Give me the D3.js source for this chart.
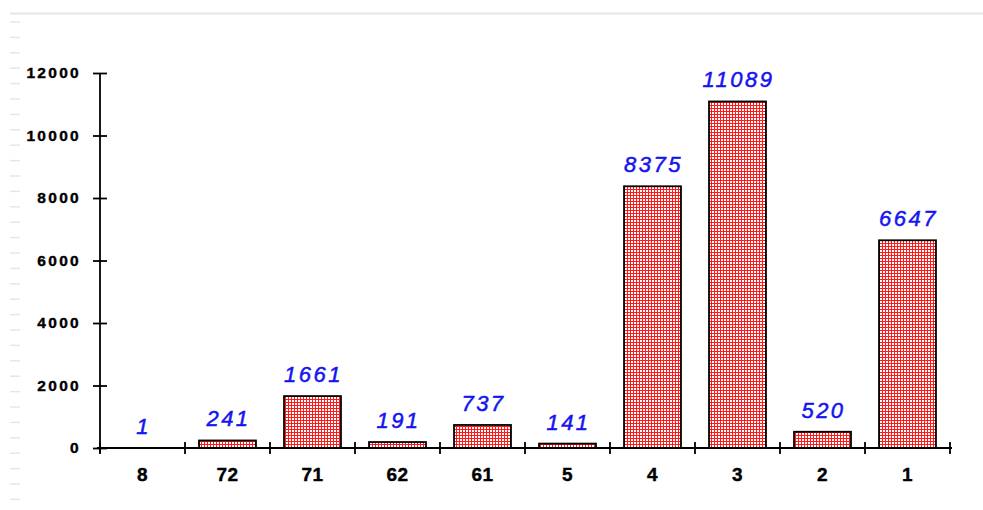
<!DOCTYPE html>
<html><head><meta charset="utf-8">
<script src="https://cdn.jsdelivr.net/npm/d3@7"></script>
<style>body{margin:0;background:#fff}svg{display:block}</style>
</head><body>
<svg id="c" width="983" height="510"></svg>
<script>
const categories = ["8","72","71","62","61","5","4","3","2","1"];
const values = [1,241,1661,191,737,141,8375,11089,520,6647];
const yTicks = [0,2000,4000,6000,8000,10000,12000];

const svg = d3.select("#c");
const x0 = 100, x1 = 950, yTop = 73, yBase = 448;
const FONT = "Liberation Sans, Arial, sans-serif";

// faint background artifacts
svg.append("line").attr("x1",10).attr("x2",983).attr("y1",13.5).attr("y2",13.5)
  .attr("stroke","#e6e6e6").attr("stroke-width",2);
for (let y = 22; y < 500; y += 15.4) {
  svg.append("line").attr("x1",10).attr("x2",20).attr("y1",y).attr("y2",y)
    .attr("stroke","#e6e6e6").attr("stroke-width",1.5);
}

const defs = svg.append("defs");
const pat = defs.append("pattern").attr("id","grid").attr("patternUnits","userSpaceOnUse")
  .attr("width",3).attr("height",3);
pat.append("rect").attr("width",3).attr("height",3).attr("fill","#ff1a1a");
pat.append("rect").attr("x",1).attr("y",1).attr("width",2).attr("height",2).attr("fill","#ffffff");

const x = d3.scaleBand().domain(categories).range([x0, x1]).paddingInner(0.33).paddingOuter(0.165);
const y = d3.scaleLinear().domain([0,12000]).range([yBase, yTop]);

// bars
svg.selectAll("rect.bar").data(values).join("rect").attr("class","bar")
  .attr("x",(d,i)=>x(categories[i])).attr("width",x.bandwidth())
  .attr("y",d=>y(d)).attr("height",d=>yBase-y(d))
  .attr("fill","url(#grid)").attr("stroke","#000").attr("stroke-width",1.8)
  .attr("display",d=>d<10?"none":null);

// value labels
svg.selectAll("text.val").data(values).join("text").attr("class","val")
  .attr("x",(d,i)=>x(categories[i])+x.bandwidth()/2+1)
  .attr("y",d=>y(d)-14)
  .attr("text-anchor","middle")
  .style("font-family",FONT).style("font-style","italic").style("font-size","22px")
  .style("letter-spacing","2.5px")
  .attr("fill","#1414f0").attr("stroke","#1414f0").attr("stroke-width",0.5).text(d=>d);

// y axis
const ya = svg.append("g").attr("transform",`translate(${x0},0)`)
  .call(d3.axisLeft(y).tickValues(yTicks).tickFormat(d3.format("d")).tickSize(7).tickPadding(12).tickSizeOuter(0));
ya.select(".domain").attr("d",`M0,${yTop}V${yBase+5}`).attr("stroke-width",1.8);
ya.selectAll(".tick line").attr("x2",7).attr("x1",-7).attr("stroke-width",1.8);
ya.selectAll(".tick text").style("font-family",FONT)
  .style("font-weight","bold").style("font-size","15.5px").style("letter-spacing","2.3px")
  .attr("fill","#000").attr("stroke","#000").attr("stroke-width",0.4);

// x axis
const xa = svg.append("g").attr("transform",`translate(0,${yBase})`)
  .call(d3.axisBottom(x).tickSize(0).tickPadding(20));
xa.select(".domain").attr("d",`M${x0-3},0H${x1+2}`).attr("stroke-width",1.8);
xa.selectAll(".tick line").remove();
xa.selectAll(".tick text").style("font-family",FONT)
  .style("font-weight","bold").style("font-size","19px").style("letter-spacing","0.5px")
  .attr("fill","#000").attr("stroke","#000").attr("stroke-width",0.4);
const bounds = d3.range(categories.length+1).map(i => x0 + i*x.step());
xa.selectAll("line.bt").data(bounds).join("line").attr("class","bt")
  .attr("x1",d=>d).attr("x2",d=>d).attr("y1",-6).attr("y2",6)
  .attr("stroke","#000").attr("stroke-width",1.8);
</script>
</body></html>
